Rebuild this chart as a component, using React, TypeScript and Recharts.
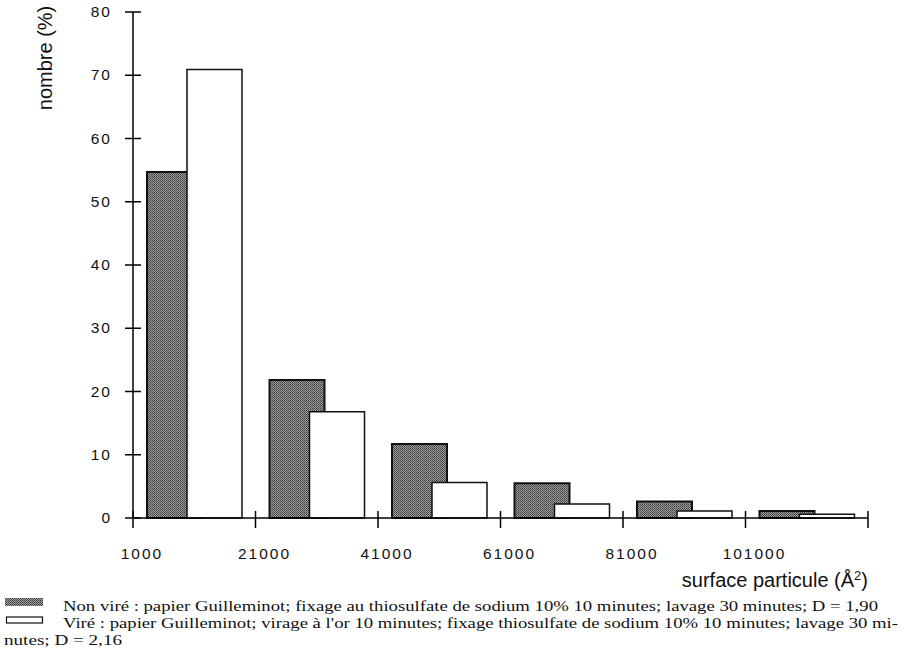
import { BarChart, Bar, XAxis, YAxis } from 'recharts';

// bin start values of particle surface (Å²)
const categories = ['1000', '21000', '41000', '61000', '81000', '101000'];
const nonVire = [54.7, 21.8, 11.7, 5.5, 2.6, 1.1];
const vire = [70.9, 16.8, 5.6, 2.2, 1.1, 0.6];
const yTicks = [0, 10, 20, 30, 40, 50, 60, 70, 80];

const legendNonVire =
  'Non viré : papier Guilleminot; fixage au thiosulfate de sodium 10% 10 minutes; lavage 30 minutes; D = 1,90';
const legendVire1 =
  "Viré : papier Guilleminot; virage à l'or 10 minutes; fixage thiosulfate de sodium 10% 10 minutes; lavage 30 mi-";
const legendVire2 = 'nutes; D = 2,16';

const data = categories.map((name, i) => ({ name, nonVire: nonVire[i], vire: vire[i] }));

const W = 910;
const H = 651;
const CHART_H = 600;
const margin = { top: 12, right: 42, left: 73, bottom: 0 };
const PLOT_W = W - margin.left - 60 - margin.right;
const sans = '"Liberation Sans", Arial, Helvetica, sans-serif';
const serif = '"Liberation Serif", "Times New Roman", serif';

function YTick(props: any) {
  const { x, y, payload } = props;
  return (
    <g>
      <line x1={x - 8} x2={x + 8} y1={y} y2={y} stroke="#000" strokeWidth={1.5} />
      <text x={x - 21} y={y} dy={5} textAnchor="end" fontFamily={sans} fontSize={15.5} letterSpacing={2} fill="#111">
        {payload.value}
      </text>
    </g>
  );
}

function XTick(props: any) {
  const { x, y, payload, index } = props;
  const half = payload.offset || PLOT_W / categories.length / 2;
  const left = x - half;
  const last = index === categories.length - 1;
  return (
    <g>
      <line x1={left} x2={left} y1={y - 7} y2={y + 10} stroke="#000" strokeWidth={1.5} />
      {last && <line x1={x + half} x2={x + half} y1={y - 7} y2={y + 10} stroke="#000" strokeWidth={1.5} />}
      <text x={left + 9} y={y + 41} textAnchor="middle" fontFamily={sans} fontSize={15.5} letterSpacing={2} fill="#111">
        {payload.value}
      </text>
    </g>
  );
}

function Stipple({ id }: { id: string }) {
  return (
    <pattern id={id} width={2} height={2} patternUnits="userSpaceOnUse">
      <rect width={2} height={2} fill="#9c9c9c" />
      <rect width={1} height={1} fill="#3a3a3a" />
      <rect x={1} y={1} width={1} height={1} fill="#555" />
    </pattern>
  );
}

export default function App() {
  return (
    <div style={{ position: 'absolute', left: 0, top: 0, width: W, height: H, background: '#fff', overflow: 'hidden' }}>
      <BarChart width={W} height={CHART_H} data={data} margin={margin} barSize={55} barGap={-15}>
        <defs>
          <Stipple id="stipple" />
        </defs>
        <YAxis
          width={60}
          domain={[0, 80]}
          ticks={yTicks}
          interval={0}
          tickSize={0}
          tickMargin={0}
          tick={<YTick />}
          axisLine={{ stroke: '#000', strokeWidth: 1.5 }}
        />
        <XAxis
          dataKey="name"
          height={82}
          interval={0}
          tickSize={0}
          tickMargin={0}
          tick={<XTick />}
          axisLine={{ stroke: '#000', strokeWidth: 1.5 }}
        />
        <Bar dataKey="nonVire" fill="url(#stipple)" stroke="#111" strokeWidth={2} isAnimationActive={false} />
        <Bar dataKey="vire" fill="#fff" stroke="#111" strokeWidth={1.5} isAnimationActive={false} />
      </BarChart>

      <svg width={W} height={H} style={{ position: 'absolute', left: 0, top: 0, pointerEvents: 'none' }}>
        <defs>
          <Stipple id="stipple-legend" />
        </defs>
        <text transform="translate(52,58) rotate(-90)" textAnchor="middle" fontFamily={sans} fontSize={20} fill="#111">
          nombre (%)
        </text>
        <text x={868} y={587} textAnchor="end" fontFamily={sans} fontSize={20} fill="#111">
          <tspan>surface particule (Å</tspan>
          <tspan dy={-7} fontSize={13}>2</tspan>
          <tspan dy={7}>)</tspan>
        </text>

        <rect x={5} y={598} width={38} height={8} fill="url(#stipple-legend)" />
        <rect x={6.5} y={617} width={36} height={6} fill="#fff" stroke="#111" strokeWidth={1.2} />
        <text x={63} y={611} fontFamily={serif} fontSize={15.5} fill="#111" textLength={815} lengthAdjust="spacingAndGlyphs">
          {legendNonVire}
        </text>
        <text x={63} y={628} fontFamily={serif} fontSize={15.5} fill="#111" textLength={835} lengthAdjust="spacingAndGlyphs">
          {legendVire1}
        </text>
        <text x={4} y={645} fontFamily={serif} fontSize={15.5} fill="#111" textLength={118} lengthAdjust="spacingAndGlyphs">
          {legendVire2}
        </text>
      </svg>
    </div>
  );
}
